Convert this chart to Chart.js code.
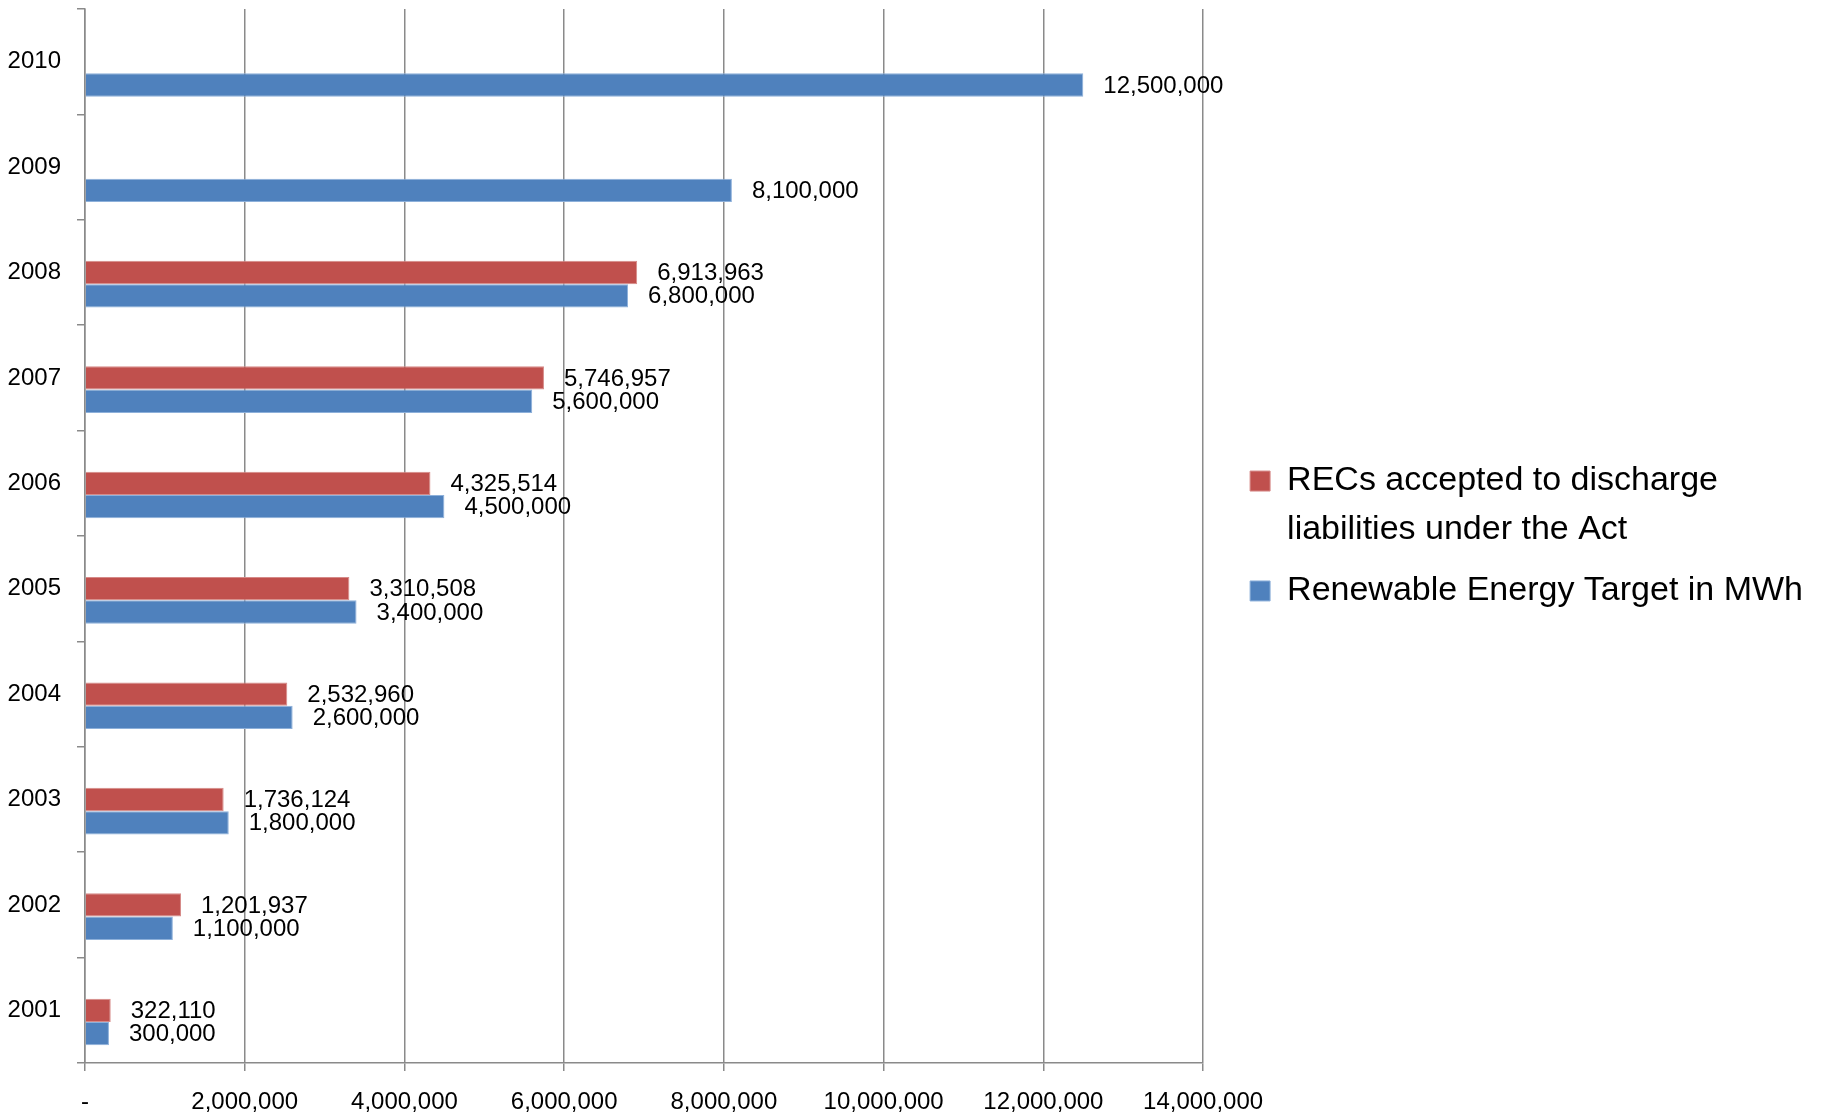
<!DOCTYPE html>
<html>
<head>
<meta charset="utf-8">
<script src="https://cdn.jsdelivr.net/npm/chart.js@4/dist/chart.umd.min.js"></script>
<style>
  html, body { margin: 0; padding: 0; background: #ffffff; }
  #wrap { width: 1829px; height: 1117px; position: relative; }
</style>
</head>
<body>
<div id="wrap"><canvas id="bar-chart"></canvas></div>
<script>
var years = ["2001", "2002", "2003", "2004", "2005", "2006", "2007", "2008", "2009", "2010"];
var recsAccepted = [322110, 1201937, 1736124, 2532960, 3310508, 4325514, 5746957, 6913963, null, null];
var energyTarget = [300000, 1100000, 1800000, 2600000, 3400000, 4500000, 5600000, 6800000, 8100000, 12500000];
var recsLabel = ["RECs accepted to discharge", "liabilities under the Act"];
var targetLabel = "Renewable Energy Target in MWh";

var fontFamily = "'Liberation Sans', Arial, sans-serif";
var gridColor = "#8a8a8a";

// writes the value just past the end of each bar
var valueLabels = {
    id: "valueLabels",
    afterDatasetsDraw: function (chart) {
        var c = chart.ctx;
        c.save();
        c.font = "24px " + fontFamily;
        c.fillStyle = "#000000";
        c.textAlign = "left";
        c.textBaseline = "middle";
        chart.data.datasets.forEach(function (ds, i) {
            if (ds.spacer) return;
            chart.getDatasetMeta(i).data.forEach(function (bar, j) {
                var v = ds.data[j];
                if (v === null) return;
                c.fillText(v.toLocaleString("en-US"), bar.x + 20, bar.y + 1);
            });
        });
        c.restore();
    }
};

var ctx = document.getElementById("bar-chart");

var chart = new Chart(ctx, {
    type: "bar",
    data: {
        labels: years,
        datasets: [
            {
                // empty slot so the pair sits low in each band, like the original
                label: "",
                spacer: true,
                data: years.map(function () { return null; }),
                backgroundColor: "rgba(0,0,0,0)"
            },
            {
                label: recsLabel,
                data: recsAccepted,
                backgroundColor: "#C0504D",
                borderColor: "#D68A88",
                borderWidth: 1
            },
            {
                label: targetLabel,
                data: energyTarget,
                backgroundColor: "#4F81BD",
                borderColor: "#8DB0DA",
                borderWidth: 1
            }
        ]
    },

    options: {
        indexAxis: "y",
        responsive: true,
        maintainAspectRatio: false,
        animation: false,
        categoryPercentage: 0.664,
        barPercentage: 1.0,
        layout: {
            padding: { left: 4, top: 9, right: 16, bottom: 0 }
        },
        scales: {
            x: {
                min: 0,
                max: 14000000,
                ticks: {
                    stepSize: 2000000,
                    padding: 17,
                    color: "#000000",
                    font: { family: fontFamily, size: 24 },
                    maxRotation: 0,
                    callback: function (v) {
                        return v === 0 ? "-" : v.toLocaleString("en-US");
                    }
                },
                grid: {
                    color: gridColor,
                    lineWidth: 1.5,
                    tickLength: 8,
                    drawTicks: true
                },
                border: { color: gridColor, width: 1.5 },
                afterFit: function (s) {
                    s.height = 54;
                    s.paddingLeft = 0;
                    s.paddingRight = 0;
                }
            },
            y: {
                reverse: true,
                ticks: {
                    padding: 16,
                    color: "#000000",
                    font: { family: fontFamily, size: 24 }
                },
                grid: {
                    offset: true,
                    drawOnChartArea: false,
                    color: gridColor,
                    lineWidth: 1.5,
                    tickLength: 8
                },
                border: { color: gridColor, width: 1.5 },
                afterFit: function (s) {
                    s.width = 81;
                    s.paddingTop = 0;
                    s.paddingBottom = 0;
                }
            },
            // blank axis, only keeps a gap between the plot and the legend
            gap: {
                type: "linear",
                position: "right",
                display: true,
                ticks: { display: false },
                grid: { display: false },
                border: { display: false },
                afterFit: function (s) {
                    s.width = 35;
                    s.paddingTop = 0;
                    s.paddingBottom = 0;
                }
            }
        },
        plugins: {
            legend: {
                position: "right",
                fullSize: false,
                maxWidth: 800,
                labels: {
                    color: "#000000",
                    boxWidth: 20,
                    boxHeight: 20,
                    padding: 12,
                    font: { family: fontFamily, size: 34, lineHeight: 1.44 },
                    filter: function (item, data) {
                        return !data.datasets[item.datasetIndex].spacer;
                    }
                }
            },
            tooltip: { enabled: false }
        }
    },
    plugins: [valueLabels]
});
</script>
</body>
</html>
